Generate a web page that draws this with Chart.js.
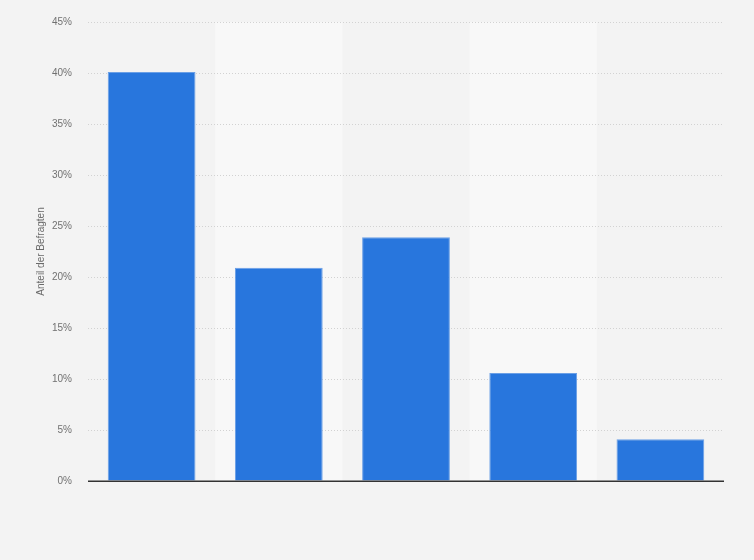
<!DOCTYPE html>
<html>
<head>
<meta charset="utf-8">
<script src="https://cdn.jsdelivr.net/npm/chart.js@4"></script>
<style>
html,body{margin:0;padding:0;background:#f3f3f3;}
#wrap{width:754px;height:560px;position:relative;}
</style>
</head>
<body>
<div id="wrap"><canvas id="c" width="754" height="560"></canvas></div>
<script>
const categories = ['Antwort 1', 'Antwort 2', 'Antwort 3', 'Antwort 4', 'Antwort 5'];
const shares = [40.1, 20.9, 23.9, 10.6, 4.1];
const yTicks = [0, 5, 10, 15, 20, 25, 30, 35, 40, 45];
const yTitle = 'Anteil der Befragten';

const bandsPlugin = {
  id: 'bands',
  beforeDraw(chart) {
    const {ctx, chartArea, scales} = chart;
    ctx.save();
    ctx.fillStyle = '#f3f3f3';
    ctx.fillRect(0, 0, chart.width, chart.height);
    const x = scales.x;
    const n = categories.length;
    const w = (chartArea.right - chartArea.left) / n;
    ctx.fillStyle = '#f8f8f8';
    for (let i = 0; i < n; i++) {
      if (i % 2 === 1) {
        const c = x.getPixelForValue(i);
        ctx.fillRect(c - w / 2, chartArea.top, w, chartArea.bottom - chartArea.top);
      }
    }
    ctx.restore();
  },
  afterDatasetsDraw(chart) {
    const {ctx, chartArea, scales} = chart;
    const y0 = Math.round(scales.y.getPixelForValue(0));
    ctx.save();
    ctx.strokeStyle = '#333333';
    ctx.lineWidth = 1.5;
    ctx.beginPath();
    ctx.moveTo(chartArea.left, y0 + 0.25);
    ctx.lineTo(chartArea.right, y0 + 0.25);
    ctx.stroke();
    ctx.restore();
  }
};

new Chart(document.getElementById('c'), {
  type: 'bar',
  data: {
    labels: categories,
    datasets: [{
      data: shares,
      backgroundColor: '#2876dd',
      borderColor: '#6a9fe6',
      borderWidth: 1,
      categoryPercentage: 1,
      barPercentage: 0.69
    }]
  },
  options: {
    responsive: false,
    animation: false,
    devicePixelRatio: 1,
    layout: { padding: { left: 35, right: 30, top: 18, bottom: 79 } },
    plugins: { legend: { display: false }, tooltip: { enabled: false } },
    scales: {
      x: {
        display: false
      },
      y: {
        min: 0,
        max: 45,
        afterBuildTicks(scale) {
          scale.ticks = yTicks.map(v => ({ value: v }));
        },
        afterFit(scale) { scale.width = 53; },
        ticks: {
          padding: 16,
          color: '#717171',
          font: { family: 'Liberation Sans, Arial, sans-serif', size: 10 },
          callback: v => v + '%'
        },
        grid: {
          color: ctx => ctx.tick && ctx.tick.value === 0 ? 'rgba(0,0,0,0)' : '#d2d2d2',
          lineWidth: 1,
          drawTicks: false
        },
        border: { display: false, dash: [1, 2] },
        title: {
          display: true,
          text: yTitle,
          color: '#6a6a6a',
          font: { family: 'Liberation Sans, Arial, sans-serif', size: 10 },
          padding: { top: 0, bottom: 0 }
        }
      }
    }
  },
  plugins: [bandsPlugin]
});
</script>
</body>
</html>
